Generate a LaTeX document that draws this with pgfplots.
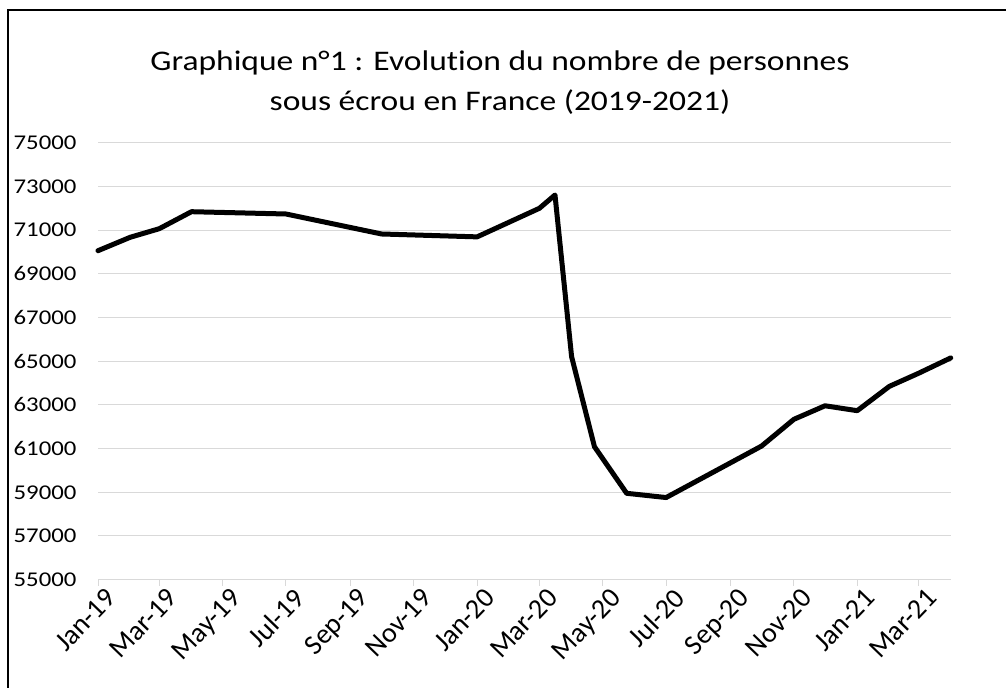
\documentclass[border=0pt]{standalone}
\usepackage{fontspec}
\setmainfont{Carlito}[FakeStretch=1.18, Ligatures=NoCommon]
\newfontfamily\plainfont{Carlito}[Ligatures=NoCommon]
\usepackage{pgfplots}
\pgfplotsset{compat=1.18}
\definecolor{gridgray}{HTML}{D9D9D9}

\begin{document}
\begin{tikzpicture}
\useasboundingbox (0bp,0bp) rectangle (1006bp,688bp);
% chart frame (cropped at right and bottom)
\draw[line width=1.5bp] (8bp,-5bp) -- (8bp,678bp) -- (1012bp,678bp);
\node[align=center, font=\fontsize{28.4bp}{40bp}\selectfont] at (500bp,605bp)
  {Graphique n°1 : Evolution du nombre de personnes\\sous écrou en France (2019-2021)};
\begin{axis}[
    at={(98bp,108.3bp)}, anchor=south west,
    scale only axis,
    width=852.7bp, height=437bp,
    xmin=0, xmax=821,
    ymin=55000, ymax=75000,
    ytick={55000,57000,...,75000},
    scaled y ticks=false,
    xtick={0,59,120,181,243,304,365,425,486,547,609,670,731,790},
    xticklabels={Jan-19,Mar-19,May-19,Jul-19,Sep-19,Nov-19,Jan-20,Mar-20,May-20,Jul-20,Sep-20,Nov-20,Jan-21,Mar-21},
    axis x line=bottom, axis y line=left,
    x axis line style={gridgray, line width=1bp, -},
    y axis line style={draw=none},
    ymajorgrids,
    grid style={gridgray, line width=1bp},
    xtick align=outside,
    xtick style={gridgray, line width=1bp},
    major tick length=6bp,
    ytick style={draw=none},
    /pgf/number format/assume math mode=true,
    yticklabel style={font=\fontsize{21bp}{24bp}\selectfont, /pgf/number format/fixed, /pgf/number format/1000 sep={}, anchor=east, xshift=-15bp},
    xticklabel style={font=\plainfont\fontsize{28bp}{30bp}\selectfont, rotate=46, anchor=north east, xshift=7bp, yshift=-2bp},
    clip=false,
]
\addplot[black, line width=5bp, line join=round, line cap=round] coordinates {
    (0,70057) (31,70671) (59,71064) (90,71842) (181,71737) (273,70822)
    (365,70690) (425,71998) (440,72606) (456,65206) (478,61087) (509,58954)
    (547,58760) (639,61119) (670,62340) (700,62960) (731,62735) (762,63850)
    (790,64446) (821,65150)
};
\end{axis}
\end{tikzpicture}
\end{document}
